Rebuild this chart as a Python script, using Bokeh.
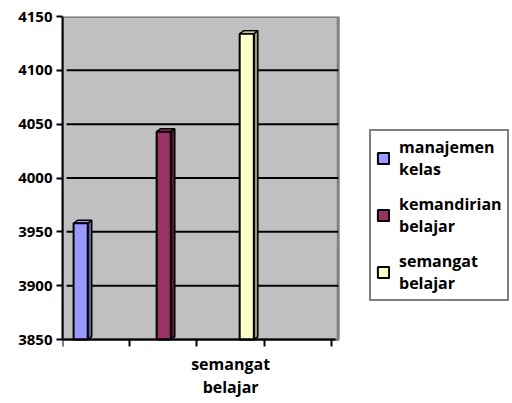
from bokeh.plotting import figure
from bokeh.models import Range1d, FixedTicker, Legend, LegendItem
from bokeh.embed import file_html
from bokeh.resources import INLINE

series = ["manajemen\nkelas", "kemandirian\nbelajar", "semangat\nbelajar"]
values = [3958, 4043, 4134]
category = "semangat\nbelajar"
y_ticks = [3850, 3900, 3950, 4000, 4050, 4100, 4150]
colors = ["#9999FF", "#993366", "#FFFFCC"]
side_colors = ["#5c5c99", "#4d1a33", "#99997a"]

FONT = "Open Sans"
N_SLOTS = 4           # category slots on the x axis
X_END = 6.662         # frame also hosts the legend to the right of the plot area
AREA_END = 4.1        # right edge of grey plot area
Y_MIN = 3793.4        # frame extends below the value axis to host the category labels

p = figure(width=510, height=400, output_backend="svg", toolbar_location=None,
           x_range=Range1d(0, X_END), y_range=Range1d(Y_MIN, y_ticks[-1]),
           min_border_left=62, min_border_right=0, min_border_top=16, min_border_bottom=0)
p.border_fill_color = "white"
p.background_fill_color = "white"
p.outline_line_color = None

# grey plot area (walls)
p.quad(left=[0], right=[AREA_END], bottom=[y_ticks[0]], top=[y_ticks[-1]],
       fill_color="#C0C0C0", line_color="#808080", line_width=3)
# grid lines
p.segment(x0=[0.06] * (len(y_ticks) - 2), x1=[AREA_END] * (len(y_ticks) - 2),
          y0=y_ticks[1:-1], y1=y_ticks[1:-1], line_color="black", line_width=2)

# bars with pseudo-3D
base = y_ticks[0]
w = 0.21
dx, dy = 0.06, 2.8
renderers = []
for i, (v, c, sc) in enumerate(zip(values, colors, side_colors)):
    cx = 0.27 + i * 1.235
    x0, x1 = cx - w / 2, cx + w / 2
    p.patch([x1, x1 + dx, x1 + dx, x1], [base, base + dy, v + dy, v],
            fill_color=sc, line_color="black", line_width=1.5)
    p.patch([x0, x0 + dx, x1 + dx, x1], [v, v + dy, v + dy, v],
            fill_color=c, line_color="black", line_width=1.5)
    r = p.quad(left=[x0], right=[x1], bottom=[base], top=[v],
               fill_color=c, line_color="black", line_width=2)
    renderers.append(r)

p.xgrid.grid_line_color = None
p.ygrid.grid_line_color = None

# y axis
p.yaxis.bounds = (y_ticks[0], y_ticks[-1])
p.yaxis.ticker = FixedTicker(ticks=y_ticks)
p.yaxis.axis_line_color = "black"
p.yaxis.axis_line_width = 2
p.yaxis.major_tick_line_color = "black"
p.yaxis.major_tick_line_width = 2
p.yaxis.major_tick_out = 6
p.yaxis.major_tick_in = 0
p.yaxis.minor_tick_line_color = None
p.yaxis.major_label_text_font = FONT
p.yaxis.major_label_text_font_style = "bold"
p.yaxis.major_label_text_font_size = "15px"
p.yaxis.major_label_text_color = "black"
p.yaxis.major_label_standoff = 4

# x axis, placed at the base value inside the frame
p.xaxis.fixed_location = y_ticks[0]
p.xaxis.bounds = (0, 4.06)
p.xaxis.ticker = FixedTicker(ticks=[2.5], minor_ticks=list(range(N_SLOTS + 1)))
p.xaxis.major_label_overrides = {2.5: category}
p.xaxis.major_tick_line_color = None
p.xaxis.minor_tick_line_color = "black"
p.xaxis.minor_tick_line_width = 2
p.xaxis.minor_tick_out = 7
p.xaxis.minor_tick_in = 0
p.xaxis.axis_line_color = "black"
p.xaxis.axis_line_width = 2
p.xaxis.major_label_text_font = FONT
p.xaxis.major_label_text_font_style = "bold"
p.xaxis.major_label_text_font_size = "16px"
p.xaxis.major_label_text_color = "black"
p.xaxis.major_label_standoff = 6
p.xaxis.major_label_text_line_height = 1.05

legend = Legend(items=[LegendItem(label=s, renderers=[r]) for s, r in zip(series, renderers)],
                location=(307, 99))
legend.border_line_color = "black"
legend.border_line_width = 2
legend.background_fill_color = "white"
legend.label_text_font = FONT
legend.label_text_font_style = "bold"
legend.label_text_font_size = "16px"
legend.label_text_color = "black"
legend.label_text_line_height = 0.87
legend.glyph_width = 14
legend.glyph_height = 14
legend.label_standoff = 9
legend.spacing = 13
legend.padding = 5
legend.margin = 0
p.add_layout(legend, "center")

open("out.html", "w").write(file_html(p, INLINE))
